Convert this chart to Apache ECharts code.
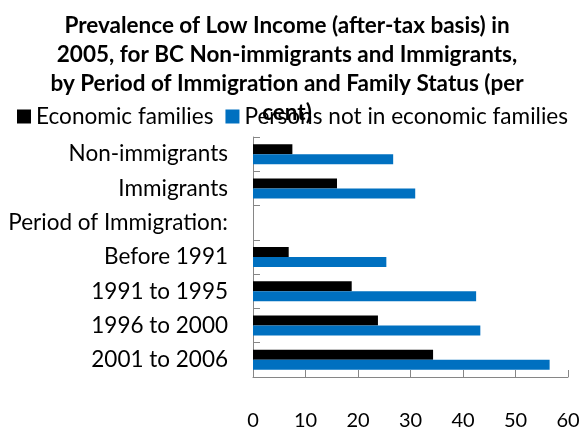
<!DOCTYPE html>
<html><head><meta charset="utf-8">
<script src="https://cdn.jsdelivr.net/npm/echarts@6/dist/echarts.min.js"></script>
<style>html,body{margin:0;padding:0;background:#fff}#c{width:579px;height:429px}</style>
</head><body><div id="c"></div>
<script>
const categories = ['Non-immigrants','Immigrants','Period of Immigration:','Before 1991','1991 to 1995','1996 to 2000','2001 to 2006'];
const economicFamilies = [7.5, 16.0, null, 6.8, 18.8, 23.8, 34.3];
const personsNotInFamilies = [26.7, 30.9, null, 25.4, 42.5, 43.3, 56.5];
const xTicks = {min: 0, max: 60, interval: 10};
const titleText = 'Prevalence of Low Income (after-tax basis) in\n2005, for BC Non-immigrants and Immigrants,\nby Period of Immigration and Family Status (per\ncent)';

const chart = echarts.init(document.getElementById('c'), null, {renderer: 'canvas'});
const FONT = 'Lato';
chart.setOption({
  animation: false,
  title: {
    text: titleText, left: 282, top: 6, textAlign: 'center',
    textStyle: {fontFamily: FONT, fontWeight: 'bold', fontSize: 22.5, lineHeight: 29, color: '#000'}
  },
  legend: {
    left: 12, top: 100, itemWidth: 14, itemHeight: 14, itemGap: 12,
    icon: 'rect',
    textStyle: {fontFamily: FONT, fontSize: 22.6, color: '#000'},
    data: ['Economic families', 'Persons not in economic families']
  },
  grid: {left: 253, right: 11, top: 137, bottom: 52, containLabel: false, outerBoundsMode: 'none'},
  xAxis: {
    type: 'value', min: xTicks.min, max: xTicks.max, interval: xTicks.interval,
    axisLine: {show: true, lineStyle: {color: '#868686', width: 1}},
    axisTick: {show: true, inside: true, length: 7, lineStyle: {color: '#868686'}},
    splitLine: {show: false},
    axisLabel: {fontFamily: FONT, fontSize: 20, color: '#000', margin: 34}
  },
  yAxis: {
    type: 'category', data: categories, inverse: true,
    axisLine: {show: true, lineStyle: {color: '#868686', width: 1}},
    axisTick: {show: true, inside: true, length: 7, lineStyle: {color: '#868686'}},
    axisLabel: {fontFamily: FONT, fontSize: 22.5, color: '#000', margin: 25}
  },
  series: [
    {name: 'Economic families', type: 'bar', data: economicFamilies, barWidth: 10, barGap: '0%',
     itemStyle: {color: '#000000'}},
    {name: 'Persons not in economic families', type: 'bar', data: personsNotInFamilies, barWidth: 10, barGap: '0%',
     itemStyle: {color: '#0070C0'}}
  ]
});
</script></body></html>
